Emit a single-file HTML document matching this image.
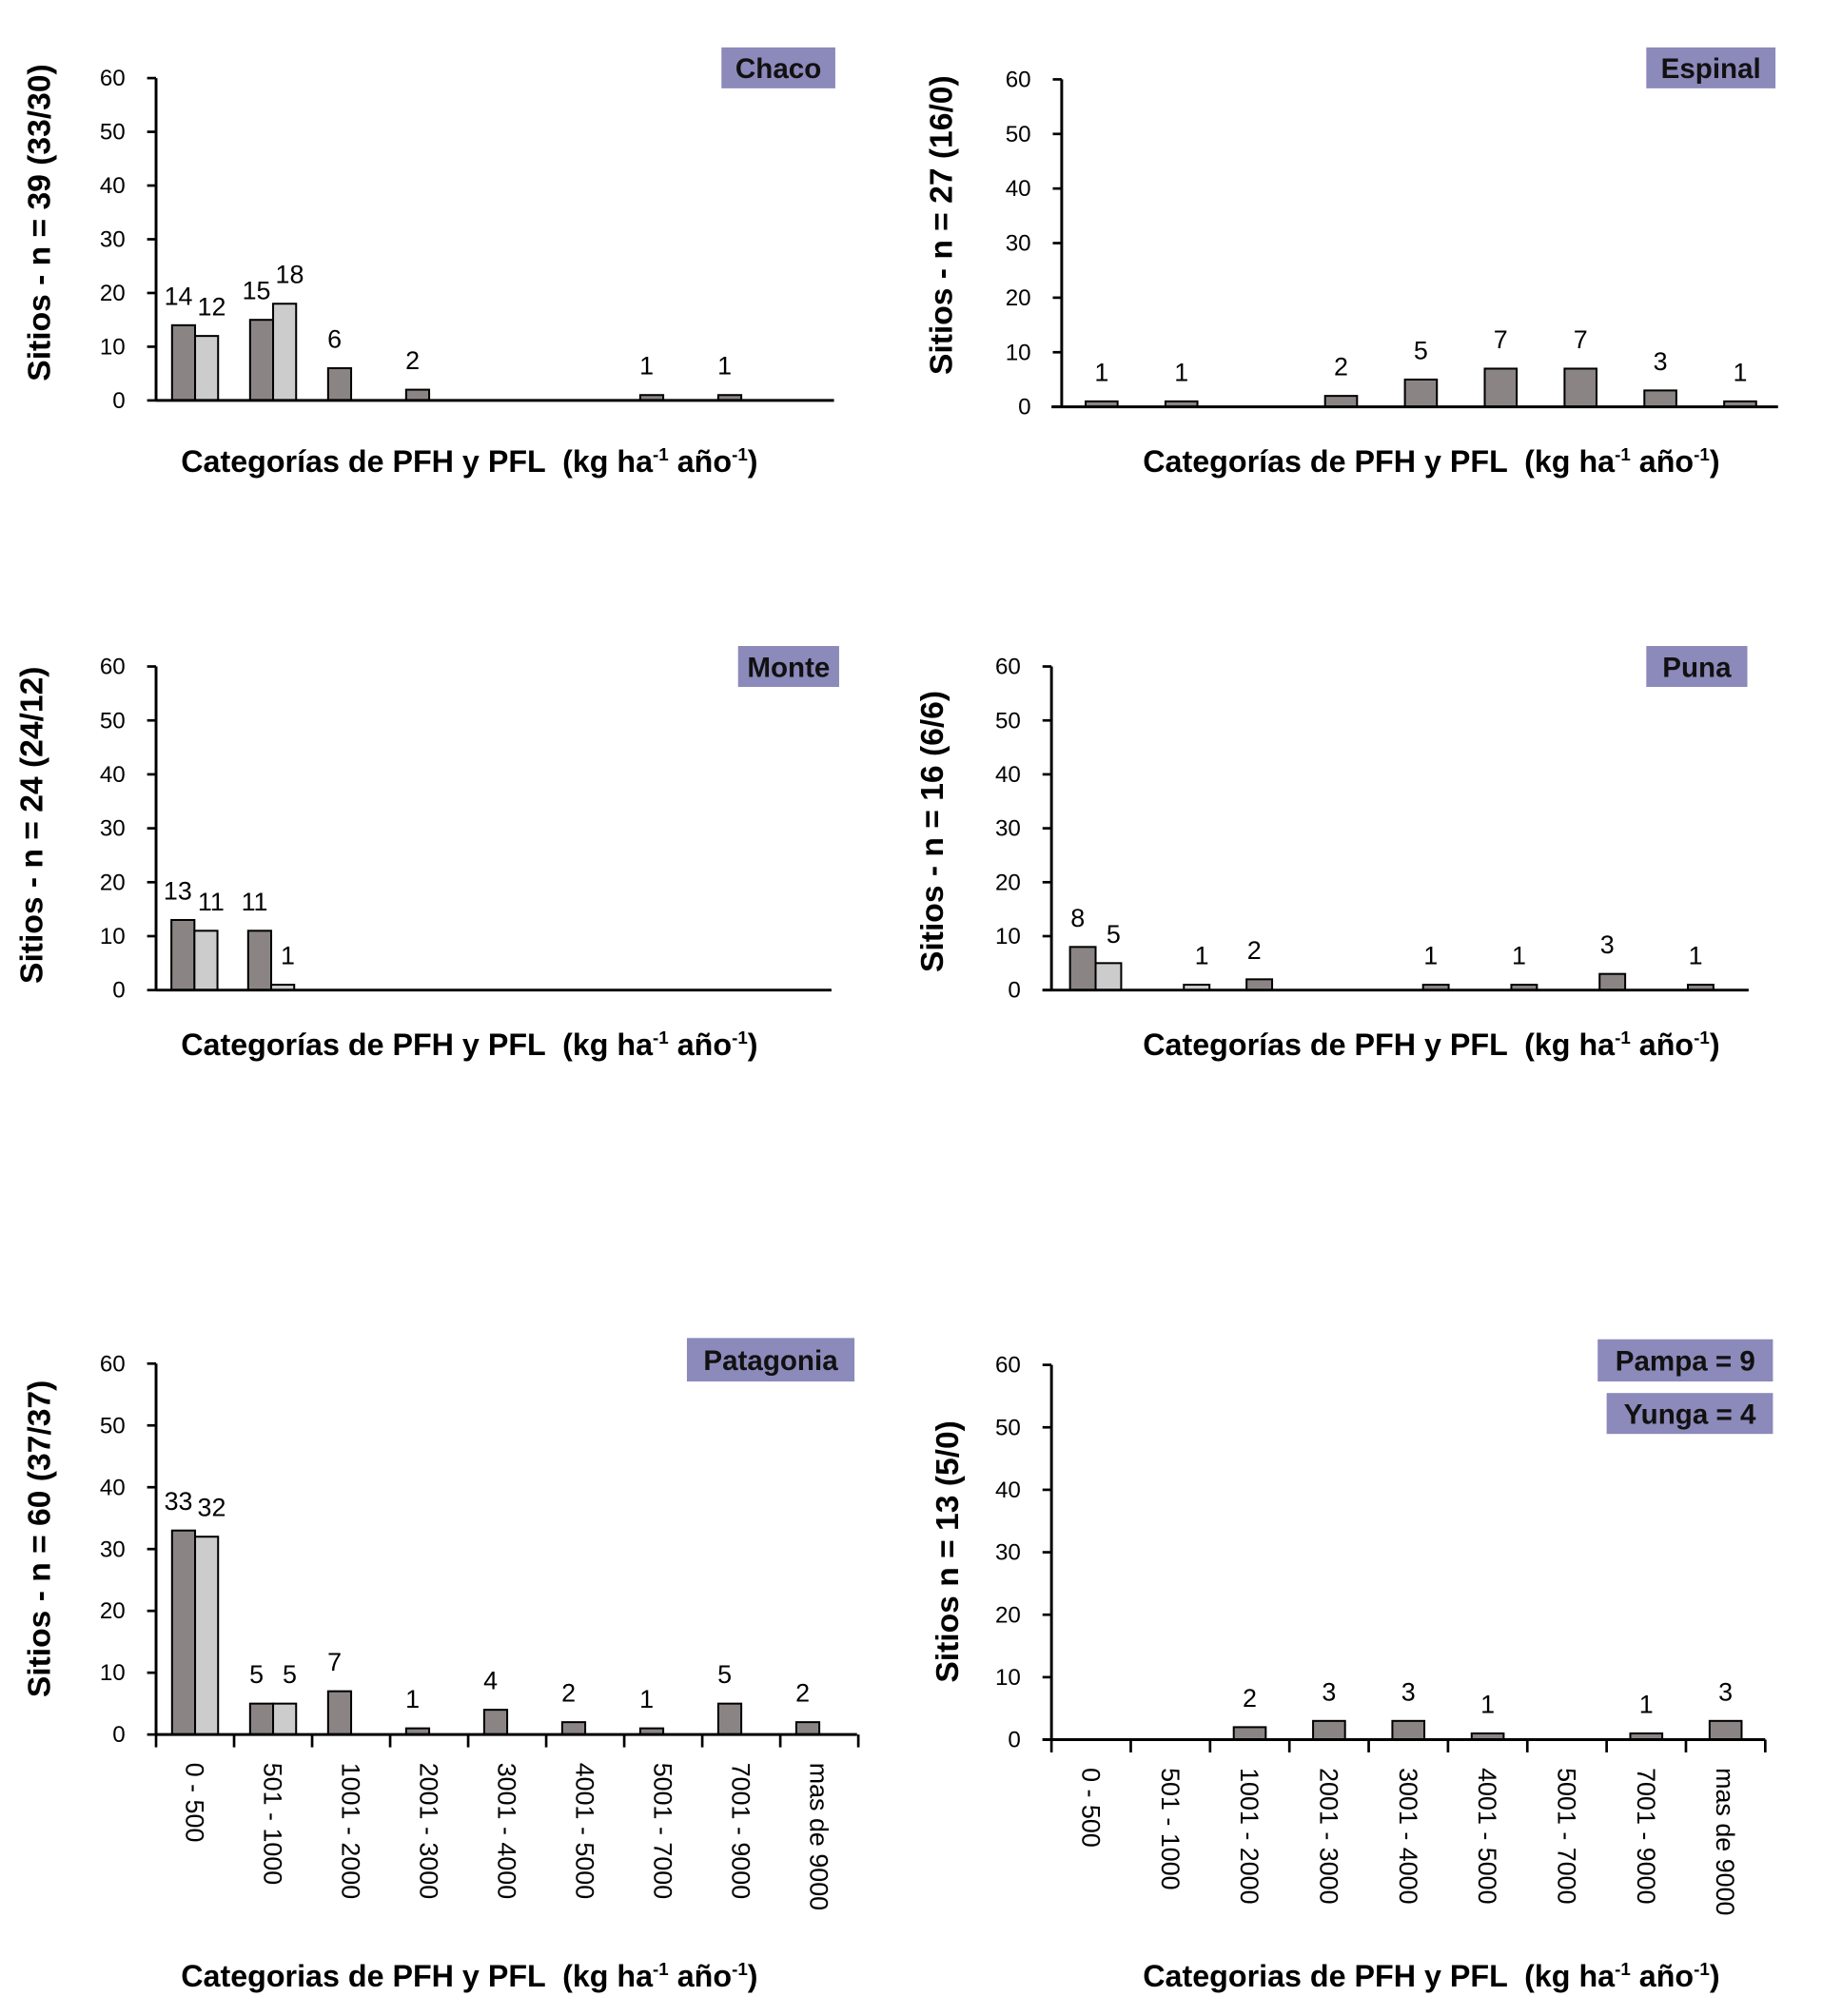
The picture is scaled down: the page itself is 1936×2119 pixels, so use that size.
<!DOCTYPE html>
<html><head><meta charset="utf-8"><style>
html,body{margin:0;padding:0;background:#fff;}
svg{display:block;font-family:"Liberation Sans",Arial,sans-serif;}
</style></head><body>
<svg id="fig" width="1936" height="2119" viewBox="0 0 1440 1576" xmlns="http://www.w3.org/2000/svg"></svg>
<script>
const categories=["0 - 500","501 - 1000","1001 - 2000","2001 - 3000","3001 - 4000","4001 - 5000","5001 - 7000","7001 - 9000","mas de 9000"];
const yTicks=[0,10,20,30,40,50,60];
const chacoPFH=[14,15,6,2,0,0,1,1,0];
const chacoPFL=[12,18,0,0,0,0,0,0,0];
const espinalPFH=[1,1,0,2,5,7,7,3,1];
const montePFH=[13,11,0,0,0,0,0,0,0];
const montePFL=[11,1,0,0,0,0,0,0,0];
const punaPFH=[8,0,2,0,1,1,3,1,0];
const punaPFL=[5,1,0,0,0,0,0,0,0];
const patagoniaPFH=[33,5,7,1,4,2,1,5,2];
const patagoniaPFL=[32,5,0,0,0,0,0,0,0];
const pampaPFH=[0,0,2,3,3,1,0,1,3];

const NS="http://www.w3.org/2000/svg";
const svg=document.getElementById('fig');
function mk(tag,attrs,parent,text){const e=document.createElementNS(NS,tag);for(const k in attrs)e.setAttribute(k,attrs[k]);if(text!==undefined)e.textContent=text;(parent||svg).appendChild(e);return e;}

function panel(p){
  const g=mk('g',{});
  
  
  const yS=v=>p.y0-(p.y0-p.y60)*v/60;
  const xC=i=>p.catStart+p.catW*(i+0.5);
  const ya=mk('line',{x1:p.ax,y1:p.y60,x2:p.ax,y2:p.y0,stroke:'#000','stroke-width':2.2},g);
  
  
  yTicks.forEach(t=>{
    mk('line',{x1:p.ax-7,y1:yS(t),x2:p.ax,y2:yS(t),stroke:'#000','stroke-width':2},g);
    const tl=mk('text',{x:p.ax-24,y:yS(t)+6,'text-anchor':'end','font-size':18,fill:'#000'},g,String(t));
    
    
  });
  const series=[[p.dark,'#8a8584']];
  if(p.light)series.push([p.light,'#cccccc']);
  series.forEach((s,si)=>{
    s[0].forEach((v,i)=>{
      if(!v)return;
      let x;
      if(p.centered)x=xC(i)-p.barW/2; else x=si===0?xC(i)-p.barW:xC(i);
      const r=mk('rect',{x:x,y:yS(v),width:p.barW,height:yS(0)-yS(v),fill:s[1],stroke:'#000','stroke-width':1.5},g);
      
      
      const lx=x+p.barW/2+(p.centered?0:(si===0?-4:4));
      const vl=mk('text',{x:lx,y:yS(v)-16,'text-anchor':'middle','font-size':20,fill:'#000'},g,String(v));
      
      
    });
  });
  const xa=mk('line',{x1:p.xStart,y1:p.y0,x2:p.xEnd,y2:p.y0,stroke:'#000','stroke-width':2.2},g);
  
  
  if(p.catLabels){
    for(let i=0;i<=categories.length;i++){
      const tx=p.catStart+p.catW*i;
      mk('line',{x1:tx,y1:p.y0,x2:tx,y2:p.y0+10,stroke:'#000','stroke-width':2},g);
    }
    categories.forEach((c,i)=>{
      const t=mk('text',{x:0,y:0,'font-size':20,fill:'#000',transform:`translate(${xC(i)-7},${p.y0+22}) rotate(90)`},g,c);
      
      
    });
  }
  const yt=mk('text',{x:0,y:0,'font-size':25,'font-weight':'bold','text-anchor':'middle',fill:'#000',transform:`translate(${p.ytX},${p.ytY}) rotate(-90)`},g,p.ytitle);
  
  
  const xt=mk('text',{x:p.xtX,y:p.xtY,'font-size':24,'font-weight':'bold','text-anchor':'middle',fill:'#000',style:'white-space:pre'},g);
  
  
  xt.innerHTML=p.xword+' de PFH y PFL  (kg ha<tspan dy="-9" font-size="14">-1</tspan><tspan dy="9"> año</tspan><tspan dy="-9" font-size="14">-1</tspan><tspan dy="9">)</tspan>';
  p.boxes.forEach(b=>{
    const r=mk('rect',{x:b[1],y:b[2],width:b[3]-b[1],height:b[4]-b[2],fill:'#8c89bb'},g);
    
    
    const t=mk('text',{x:(b[1]+b[3])/2,y:(b[2]+b[4])/2+8,'text-anchor':'middle','font-size':22,'font-weight':'bold',fill:'#111'},g,b[0]);
    
    
  });
}

panel({name:'chaco',ax:122,y60:61,y0:313,xStart:122,xEnd:652,catStart:122,catW:61,barW:18,dark:chacoPFH,light:chacoPFL,
  ytitle:'Sitios - n = 39 (33/30)',ytX:39,ytY:174,xtX:367,xtY:369,xword:'Categorías',boxes:[['Chaco',564,37,653,69]]});
panel({name:'espinal',ax:830,y60:62,y0:318,xStart:822,xEnd:1390,catStart:830,catW:62.4,barW:25,centered:true,dark:espinalPFH,
  ytitle:'Sitios - n = 27 (16/0)',ytX:744,ytY:176,xtX:1119,xtY:369,xword:'Categorías',boxes:[['Espinal',1287,37,1388,69]]});
panel({name:'monte',ax:122,y60:521,y0:774,xStart:122,xEnd:650,catStart:122,catW:60,barW:18,dark:montePFH,light:montePFL,
  ytitle:'Sitios - n = 24 (24/12)',ytX:33,ytY:645,xtX:367,xtY:825,xword:'Categorías',boxes:[['Monte',577,505,656,537]]});
panel({name:'puna',ax:822,y60:521,y0:774,xStart:815,xEnd:1367,catStart:822,catW:69,barW:20,dark:punaPFH,light:punaPFL,
  ytitle:'Sitios - n = 16 (6/6)',ytX:737,ytY:650,xtX:1119,xtY:825,xword:'Categorías',boxes:[['Puna',1287,505,1366,537]]});
panel({name:'patagonia',ax:122,y60:1066,y0:1356,xStart:122,xEnd:670,catStart:122,catW:61,barW:18,dark:patagoniaPFH,light:patagoniaPFL,catLabels:true,
  ytitle:'Sitios - n = 60 (37/37)',ytX:39,ytY:1203,xtX:367,xtY:1553,xword:'Categorias',boxes:[['Patagonia',537,1046,668,1080]]});
panel({name:'pampa-yunga',ax:822,y60:1067,y0:1360,xStart:815,xEnd:1380,catStart:822,catW:62,barW:25,centered:true,dark:pampaPFH,catLabels:true,
  ytitle:'Sitios n = 13 (5/0)',ytX:749,ytY:1213,xtX:1119,xtY:1553,xword:'Categorias',boxes:[['Pampa = 9',1249,1047,1386,1080],['Yunga = 4',1256,1089,1386,1121]]});
</script>
</body></html>
